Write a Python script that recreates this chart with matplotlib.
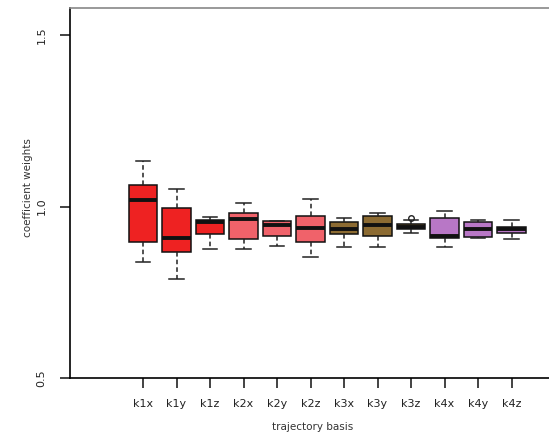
import matplotlib
matplotlib.use("Agg")
import matplotlib.pyplot as plt

plt.rcParams['font.family'] = ['DejaVu Sans']

# box statistics
labels = ['k1x', 'k1y', 'k1z', 'k2x', 'k2y', 'k2z',
          'k3x', 'k3y', 'k3z', 'k4x', 'k4y', 'k4z']
whislo = [0.837, 0.789, 0.877, 0.876, 0.886, 0.852, 0.881, 0.881, 0.922, 0.881, 0.909, 0.904]
q1 = [0.897, 0.866, 0.920, 0.905, 0.915, 0.896, 0.920, 0.915, 0.934, 0.907, 0.912, 0.924]
med = [1.019, 0.909, 0.956, 0.964, 0.947, 0.938, 0.934, 0.946, 0.941, 0.913, 0.934, 0.934]
q3 = [1.063, 0.997, 0.962, 0.982, 0.957, 0.972, 0.956, 0.972, 0.948, 0.967, 0.956, 0.941]
whishi = [1.133, 1.050, 0.970, 1.011, 0.959, 1.021, 0.966, 0.980, 0.962, 0.986, 0.961, 0.961]
fliers = [[], [], [], [], [], [], [], [], [0.967], [], [], []]

colors = ['#ee2222'] * 3 + ['#f0626a'] * 3 + ['#8c6b32'] * 3 + ['#b877c6'] * 3

stats = []
for i in range(len(labels)):
    stats.append(dict(label=labels[i], whislo=whislo[i], q1=q1[i], med=med[i],
                      q3=q3[i], whishi=whishi[i], fliers=fliers[i]))

fig = plt.figure(figsize=(5.49, 4.38), dpi=100)
ax = fig.add_axes([70 / 549, 60 / 438, 485 / 549, 370 / 438])

bp = ax.bxp(stats, positions=range(1, 13), widths=0.85, patch_artist=True,
            boxprops=dict(edgecolor='#111111', linewidth=1.1),
            medianprops=dict(color='#111111', linewidth=2.8),
            whiskerprops=dict(color='#222222', linewidth=1.1, linestyle=(0, (3, 2))),
            capprops=dict(color='#222222', linewidth=1.1),
            flierprops=dict(marker='o', markerfacecolor='none',
                            markeredgecolor='#222222', markersize=4))
for patch, c in zip(bp['boxes'], colors):
    patch.set_facecolor(c)
for cap in bp['caps']:
    x = cap.get_xdata()
    mid = (x[0] + x[1]) / 2
    cap.set_xdata([mid - 0.22, mid + 0.22])

ax.set_xlim(1 - 73 / 33.5, 1 + 412 / 33.5)
ax.set_ylim(0.5, 0.5 + 370 / 343)
ax.set_yticks([0.5, 1.0, 1.5])
ax.set_yticklabels(['0.5', '1.0', '1.5'], rotation=90, va='center')
ax.set_xticks(range(1, 13))
ax.set_xticklabels(labels)
ax.tick_params(axis='both', labelsize=8, colors='#222222', length=7, width=1.2)
ax.tick_params(axis='x', pad=8)
ax.tick_params(axis='y', pad=10)
for s in ax.spines.values():
    s.set_linewidth(1.2)
ax.spines['top'].set_color('#888888')

ax.set_xlabel('trajectory basis', fontsize=7.5, color='#333333')
ax.set_ylabel('coefficient weights', fontsize=7.5, color='#333333')
ax.xaxis.set_label_coords(0.5, -0.12)
ax.yaxis.set_label_coords(-0.077, 0.516)

fig.savefig('out.png', dpi=100)
